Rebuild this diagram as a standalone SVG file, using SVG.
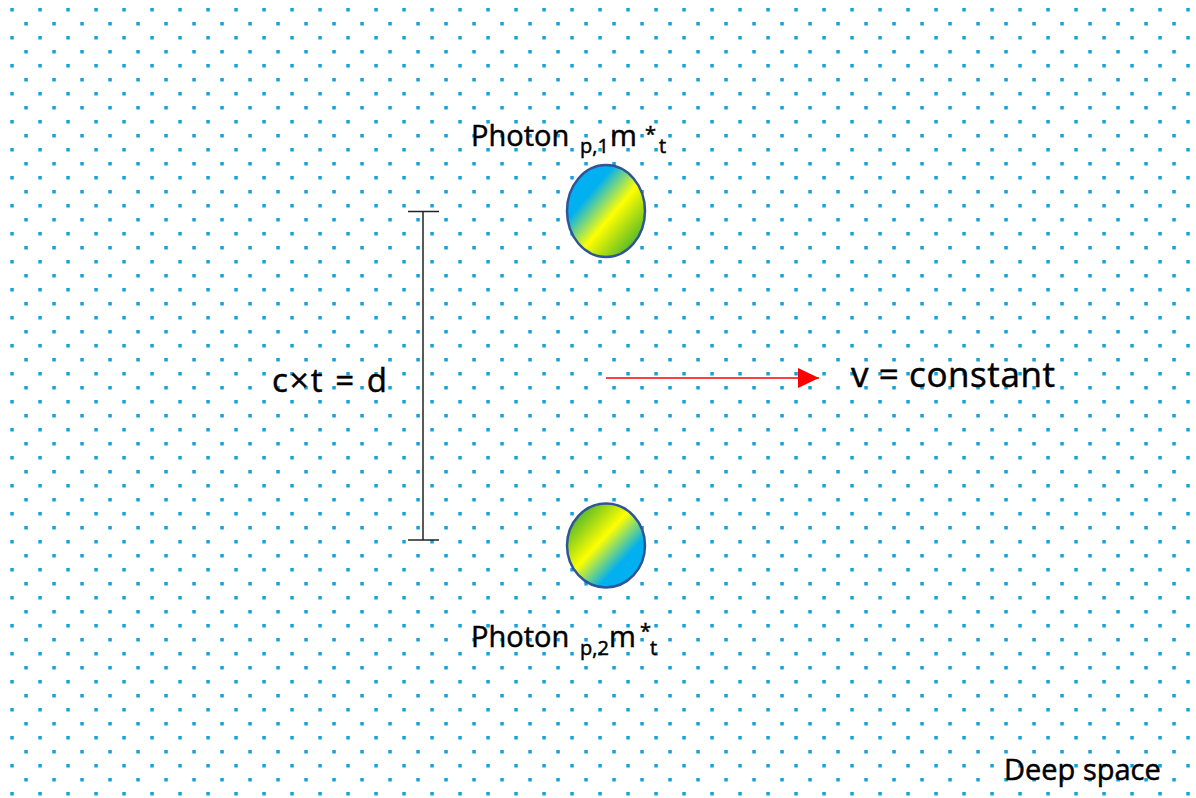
<svg xmlns="http://www.w3.org/2000/svg" width="1196" height="798" viewBox="0 0 1196 798">
<style>
.t{font-family:"Open Sans","Liberation Sans",sans-serif;fill:#000;stroke:#000;stroke-width:0.5}
.sub{font-size:20px}
.ell{stroke:#2f5597;stroke-width:2.5}
</style>
<defs>
<pattern id="dots" patternUnits="userSpaceOnUse" x="0" y="0" width="28" height="28">
<rect x="10.3" y="8" width="3.5" height="3.5" fill="#11a3e0"/>
<rect x="24.3" y="22" width="3.5" height="3.5" fill="#11a3e0"/>
</pattern>
<linearGradient id="g1" x1="0" y1="0" x2="1" y2="1">
<stop offset="0" stop-color="#00b0f0"/>
<stop offset="0.3" stop-color="#00b0f0"/>
<stop offset="0.56" stop-color="#ffff00"/>
<stop offset="1" stop-color="#0a9a3c"/>
</linearGradient>
<linearGradient id="g2" x1="0" y1="0" x2="1" y2="1">
<stop offset="0" stop-color="#0a9a3c"/>
<stop offset="0.44" stop-color="#ffff00"/>
<stop offset="0.7" stop-color="#00b0f0"/>
<stop offset="1" stop-color="#00b0f0"/>
</linearGradient>
<marker id="ah" viewBox="0 0 21 20" refX="21" refY="10" markerWidth="21" markerHeight="20" markerUnits="userSpaceOnUse" orient="auto">
<path d="M0,0 L21,10 L0,20 Z" fill="#ff0000"/>
</marker>
</defs>
<rect width="1196" height="798" fill="#ffffff"/>
<rect width="1196" height="798" fill="url(#dots)"/>

<g id="photon1">
<ellipse class="ell" cx="606" cy="211" rx="39" ry="46" fill="url(#g1)"/>
<text class="t" font-size="29" y="146"><tspan x="471">Photon</tspan><tspan class="sub" x="580" y="153">p,1</tspan><tspan x="610" y="146">m</tspan><tspan class="sub" x="645" y="141">*</tspan><tspan class="sub" x="659" y="153">t</tspan></text>
</g>

<g id="photon2">
<ellipse class="ell" cx="606" cy="545.5" rx="39" ry="42" fill="url(#g2)"/>
<text class="t" font-size="29" y="647"><tspan x="471">Photon</tspan><tspan class="sub" x="580" y="655">p,2</tspan><tspan x="609" y="647">m</tspan><tspan class="sub" x="640" y="638">*</tspan><tspan class="sub" x="650" y="655">t</tspan></text>
</g>

<g id="distance">
<line x1="423" y1="211.5" x2="423" y2="540" stroke="#222" stroke-width="1.5"/>
<line x1="408" y1="211.5" x2="439" y2="211.5" stroke="#222" stroke-width="1.5"/>
<line x1="408" y1="540" x2="439" y2="540" stroke="#222" stroke-width="1.5"/>
<text class="t" font-size="33" x="272" y="392" textLength="115" lengthAdjust="spacing">c×t = d</text>
</g>

<g id="velocity">
<text class="t" font-size="35" x="851" y="387" textLength="204" lengthAdjust="spacing">v = constant</text>
</g>

<g id="connectors">
<line x1="606" y1="378" x2="819" y2="378" stroke="#ff0000" stroke-width="1.5" marker-end="url(#ah)"/>
</g>

<g id="label">
<text class="t" font-size="29" x="1004" y="780">Deep space</text>
</g>
</svg>
